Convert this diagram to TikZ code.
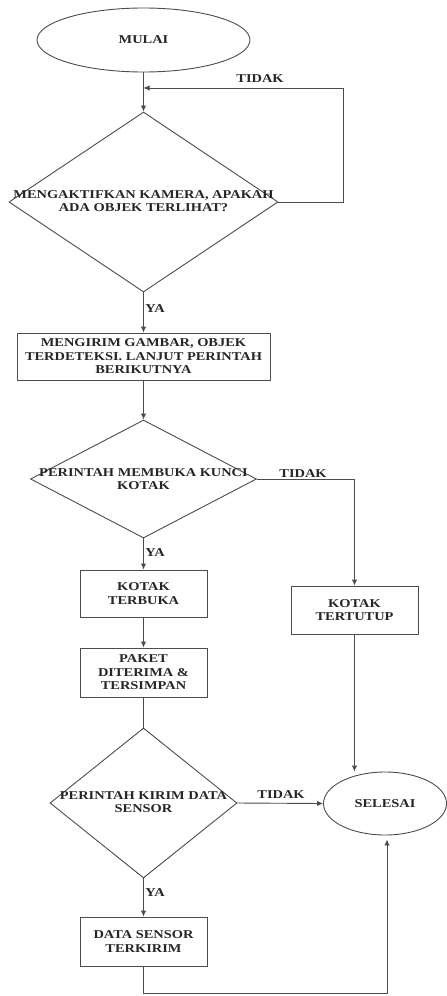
\documentclass[tikz,border=0pt]{standalone}
\usepackage{fontspec}
\setmainfont{Liberation Serif}[FakeStretch=1.2]
\usetikzlibrary{shapes.geometric,arrows.meta}
\begin{document}
\begin{tikzpicture}[x=1pt,y=-1pt,
  every node/.style={font=\fontsize{12}{13.5}\selectfont\bfseries, text=black!85},
  ln/.style={draw=black!70, line width=0.9pt},
  arr/.style={ln, -{Latex[length=6pt,width=5.5pt]}},
  term/.style={ln, ellipse, inner sep=0pt},
  dia/.style={ln, diamond, inner sep=0pt},
  box/.style={ln, rectangle, inner sep=0pt, align=center},
  txt/.style={align=center, inner sep=0pt},
  lab/.style={inner sep=0pt}
]
\useasboundingbox (0,0) rectangle (447,996);
\fill[white] (0,0) rectangle (447,996);

\node[term, minimum width=213pt, minimum height=64pt] (mulai) at (143.5,40) {MULAI};
\node[dia, minimum width=269pt, minimum height=180pt] (d1) at (143.5,202) {};
\node[txt] (t1) at (143.5,201) {MENGAKTIFKAN KAMERA, APAKAH\\ADA OBJEK TERLIHAT?};
\node[box, minimum width=253pt, minimum height=47pt] (b1) at (143.5,356.5) {MENGIRIM GAMBAR, OBJEK\\TERDETEKSI. LANJUT PERINTAH\\BERIKUTNYA};
\node[dia, minimum width=226pt, minimum height=118pt] (d2) at (143.5,479) {};
\node[txt] (t2) at (143.5,479) {PERINTAH MEMBUKA KUNCI\\KOTAK};
\node[box, minimum width=127pt, minimum height=47pt] (terbuka) at (143.5,593.5) {KOTAK\\TERBUKA};
\node[box, minimum width=127pt, minimum height=48pt] (tertutup) at (354.5,610) {KOTAK\\TERTUTUP};
\node[box, minimum width=127pt, minimum height=49pt] (paket) at (143.5,672.5) {PAKET\\DITERIMA \&\\TERSIMPAN};
\node[dia, minimum width=187pt, minimum height=150pt] (d3) at (143.5,803) {};
\node[txt] (t3) at (143.5,802) {PERINTAH KIRIM DATA\\SENSOR};
\node[term, minimum width=123pt, minimum height=63pt] (selesai) at (385,803.5) {SELESAI};
\node[box, minimum width=127pt, minimum height=49pt] (sensor) at (143.5,941.5) {DATA SENSOR\\TERKIRIM};

\coordinate (r1) at (343,88);
\coordinate (j1) at (143.5,88);
\coordinate (bl) at (143.5,993);

\draw[arr] (mulai.south) -- (d1.north);
\draw[arr] (d1.east) -| (r1) -- (j1);
\node[lab] (l1) at (260,79) {TIDAK};
\draw[arr] (d1.south) -- (b1.north);
\node[lab] (y1) at (155,309) {YA};
\draw[arr] (b1.south) -- (d2.north);
\draw[arr] (d2.east) -| (tertutup.north);
\node[lab] (l2) at (303,474) {TIDAK};
\draw[arr] (d2.south) -- (terbuka.north);
\node[lab] (y2) at (155,553) {YA};
\draw[arr] (terbuka.south) -- (paket.north);
\draw[ln] (paket.south) -- (d3.north);
\draw[arr] (d3.east) -- (selesai.west);
\node[lab] (l3) at (281,795) {TIDAK};
\draw[arr] (d3.south) -- (sensor.north);
\node[lab] (y3) at (155,893) {YA};
\draw[arr] (tertutup.south) -- (tertutup.south |- selesai.north);
\draw[arr, shorten >=4pt] (sensor.south) -- (bl) -| ([xshift=2pt]selesai.south);
\end{tikzpicture}
\end{document}
